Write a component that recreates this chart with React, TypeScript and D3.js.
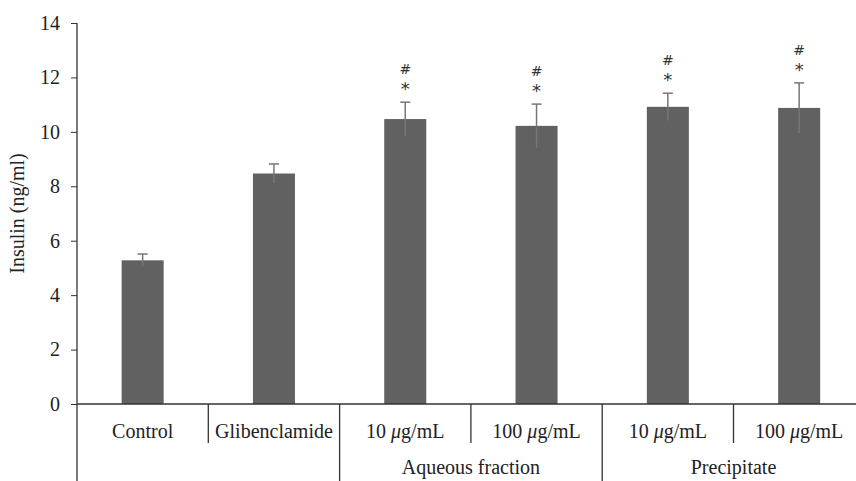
import { useEffect, useRef } from "react";
import * as d3 from "d3";

const categories = ["Control", "Glibenclamide", "10 μg/mL a", "100 μg/mL a", "10 μg/mL p", "100 μg/mL p"];
const labels = ["Control", "Glibenclamide", "10 μg/mL", "100 μg/mL", "10 μg/mL", "100 μg/mL"];
const groups = ["", "", "Aqueous fraction", "Aqueous fraction", "Precipitate", "Precipitate"];
const means = [5.28, 8.47, 10.47, 10.22, 10.92, 10.88];
const errors = [0.23, 0.35, 0.62, 0.8, 0.5, 0.92];
const marks = [false, false, true, true, true, true];
const yTicks = [0, 2, 4, 6, 8, 10, 12, 14];

const W = 856;
const H = 481;
const left = 77;
const step = 131.3;
const y0 = 404;
const y1 = 23;
const font = "'Liberation Serif', 'DejaVu Serif', serif";
const fs = 20;

export default function App() {
  const ref = useRef<SVGSVGElement>(null);

  useEffect(() => {
    const svg = d3.select(ref.current);
    svg.selectAll("*").remove();

    const x = d3.scaleBand().domain(categories).range([left, left + step * categories.length])
      .paddingInner(0.68).paddingOuter(0.34);
    const xCell = d3.scaleBand().domain(categories).range([left, left + step * categories.length]).padding(0);
    const y = d3.scaleLinear().domain([0, 14]).range([y0, y1]);

    // y axis
    const yAxis = svg.append("g").attr("transform", `translate(${left},0)`)
      .call(d3.axisLeft(y).tickValues(yTicks).tickSize(6).tickPadding(11));
    yAxis.select(".domain").remove();
    yAxis.selectAll("line").attr("stroke", "#333");
    yAxis.selectAll("text").attr("font-family", font).attr("font-size", fs).attr("fill", "#222");
    svg.append("line").attr("x1", left).attr("x2", left).attr("y1", y1).attr("y2", H)
      .attr("stroke", "#333").attr("stroke-width", 1.3);

    svg.append("text")
      .attr("transform", `translate(24,${(y0 + y1) / 2}) rotate(-90)`)
      .attr("text-anchor", "middle")
      .attr("font-family", font).attr("font-size", fs).attr("fill", "#222")
      .text("Insulin (ng/ml)");

    // bars
    svg.selectAll(".bar").data(categories).enter().append("rect")
      .attr("x", (d) => x(d)!)
      .attr("width", x.bandwidth())
      .attr("y", (d, i) => y(means[i]))
      .attr("height", (d, i) => y0 - y(means[i]))
      .attr("fill", "#616161");

    // error bars
    const eb = svg.selectAll(".err").data(categories).enter().append("g")
      .attr("stroke", "#777").attr("stroke-width", 1.5);
    eb.append("line")
      .attr("x1", (d) => x(d)! + x.bandwidth() / 2).attr("x2", (d) => x(d)! + x.bandwidth() / 2)
      .attr("y1", (d, i) => y(means[i] - errors[i])).attr("y2", (d, i) => y(means[i] + errors[i]));
    eb.append("line")
      .attr("x1", (d) => x(d)! + x.bandwidth() / 2 - 5).attr("x2", (d) => x(d)! + x.bandwidth() / 2 + 5)
      .attr("y1", (d, i) => y(means[i] + errors[i])).attr("y2", (d, i) => y(means[i] + errors[i]));

    // significance marks
    categories.forEach((c, i) => {
      if (!marks[i]) return;
      const cx = x(c)! + x.bandwidth() / 2;
      const top = y(means[i] + errors[i]);
      svg.append("text").attr("x", cx).attr("y", top - 7).attr("text-anchor", "middle")
        .attr("font-family", "'DejaVu Sans', sans-serif").attr("font-size", 18).attr("fill", "#333").text("*");
      svg.append("text").attr("x", cx).attr("y", top - 28).attr("text-anchor", "middle")
        .attr("font-family", "'DejaVu Sans', sans-serif").attr("font-size", 14).attr("fill", "#333").text("#");
    });

    // x axis line
    svg.append("line").attr("x1", left).attr("x2", W).attr("y1", y0).attr("y2", y0)
      .attr("stroke", "#333").attr("stroke-width", 1.3);

    // category dividers
    categories.forEach((c, i) => {
      if (i === 0) return;
      const bx = xCell(c)!;
      const long = groups[i] !== groups[i - 1];
      svg.append("line").attr("x1", bx).attr("x2", bx).attr("y1", y0).attr("y2", long ? H : 443)
        .attr("stroke", "#333").attr("stroke-width", 1.3);
    });

    // category labels
    svg.selectAll(".cat").data(categories).enter().append("text")
      .attr("x", (d) => xCell(d)! + xCell.bandwidth() / 2)
      .attr("y", 438)
      .attr("text-anchor", "middle")
      .attr("font-family", font).attr("font-size", fs).attr("fill", "#222")
      .each(function (d, i) {
        const t = d3.select(this);
        const m = labels[i].match(/^(\d+) μ(.*)$/);
        if (m) {
          t.append("tspan").text(m[1] + " ");
          t.append("tspan").attr("font-style", "italic").text("μ");
          t.append("tspan").text(m[2]);
        } else {
          t.text(labels[i]);
        }
      });

    // group labels
    const groupNames = Array.from(new Set(groups.filter((g) => g)));
    groupNames.forEach((g) => {
      const idx = groups.map((v, i) => (v === g ? i : -1)).filter((i) => i >= 0);
      const start = xCell(categories[idx[0]])!;
      const end = xCell(categories[idx[idx.length - 1]])! + xCell.bandwidth();
      svg.append("text").attr("x", (start + end) / 2).attr("y", 474)
        .attr("text-anchor", "middle")
        .attr("font-family", font).attr("font-size", fs).attr("fill", "#222")
        .text(g);
    });
  }, []);

  return (
    <svg ref={ref} width={W} height={H}
      style={{ position: "absolute", left: 0, top: 0, background: "#fff" }} />
  );
}
